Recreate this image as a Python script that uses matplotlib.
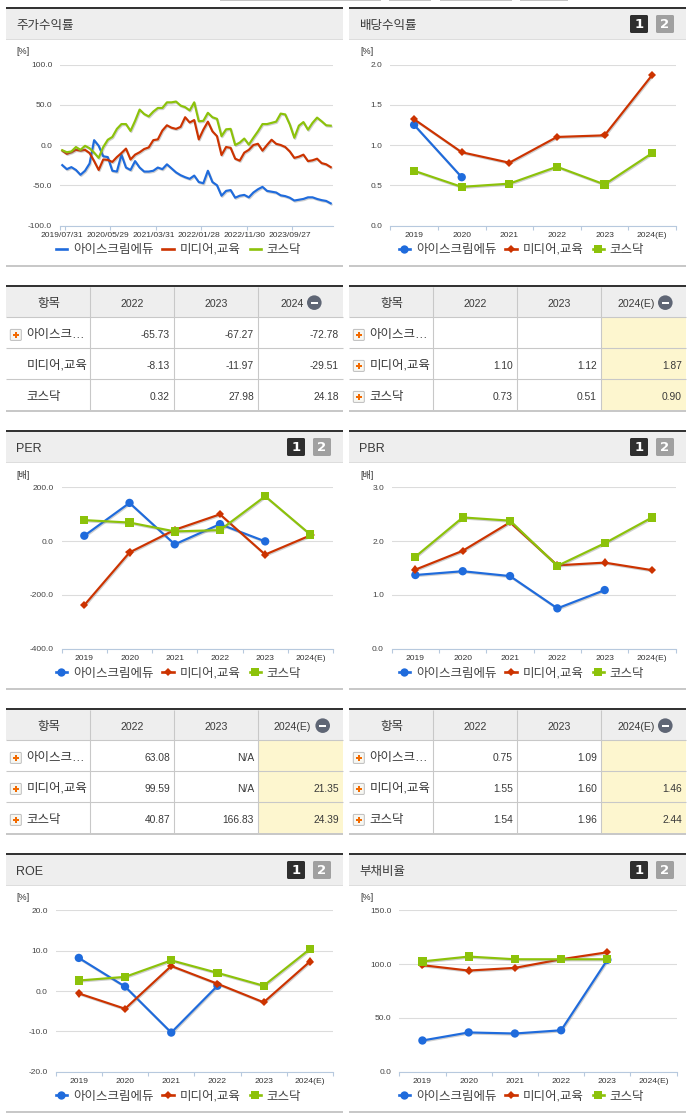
import numpy as np
import matplotlib
matplotlib.use('Agg')
import matplotlib.pyplot as plt
from matplotlib.patches import Rectangle, FancyBboxPatch, Circle
from matplotlib.lines import Line2D
import matplotlib.patheffects as pe

plt.rcParams['font.family'] = ['Liberation Sans', 'Noto Sans CJK KR', 'DejaVu Sans']

W, H = 691, 1115
nan = np.nan
SERIES = ['아이스크림에듀', '미디어,교육', '코스닥']
YEARS = ['2019', '2020', '2021', '2022', '2023', '2024(E)']
DATE_LABELS = ['2019/07/31', '2020/05/29', '2021/03/31', '2022/01/28', '2022/11/30', '2023/09/27']

ret_blue = [-25, -30, -27.5, -31, -37, -32, -23, 6, -1, -14, -15, -32, -33, -12, -28, -31, -20, -28, -33, -33,
            -32, -28, -30, -24, -29, -34, -37.5, -40, -42, -38, -46, -47.5, -32, -46, -50, -63, -57, -56, -65.5, -63,
            -62, -65, -59, -55, -52, -57, -58, -59, -62.5, -63.5, -65.5, -69, -68, -67, -65, -65, -67, -68.5, -69.5, -72.5]
ret_red = [-7, -11, -9, -6, -7, -6, -10, -20, -31, -18, -18.5, -21, -15, -10, -4.5, -18, -12, -9, -5, -3,
           6, 7, 18, 24.5, 21.5, 20, 22.5, 34.5, 28, 31, 7, 19, 29, 17, 11, -12.5, -2.5, -3.5, -17, -19.5,
           -9.5, -6, 0, 1.5, -7, 0, 6.5, 1.5, 0, -2.5, -8, -16, -14.5, -12, -20, -19, -17, -22.5, -24, -27.5]
ret_green = [-6.5, -9, -8, -2.5, -6, -1, -4, -9.5, -16, -2.5, 6.5, 10, 20, 26, 26, 17.5, 30, 44, 38.5, 35.5,
             41.5, 46, 46, 53, 53, 54, 49, 47, 43, 53, 29.5, 30, 40, 34.5, 32.5, 11, 19.5, 20, 0, 3,
             8, 0.5, 9, 17, 26, 26, 27.5, 29, 39, 38, 25.5, 9, 24, 28.5, 19, 27.5, 34, 29.5, 24.5, 24]

div_blue = [1.25, 0.60, nan, nan, nan, nan]
div_red = [1.32, 0.91, 0.78, 1.10, 1.12, 1.87]
div_green = [0.68, 0.48, 0.52, 0.73, 0.51, 0.90]
per_blue = [20, 142, -12, 63.08, -1, nan]
per_red = [-238, -42, 42, 99.59, -50, 21.35]
per_green = [78, 69, 36, 40.87, 166.83, 24.39]
pbr_blue = [1.37, 1.44, 1.35, 0.75, 1.09, nan]
pbr_red = [1.47, 1.82, 2.35, 1.55, 1.60, 1.46]
pbr_green = [1.71, 2.44, 2.38, 1.54, 1.96, 2.44]
roe_blue = [8.2, 1.1, -10.3, 1.3, nan, nan]
roe_red = [-0.6, -4.4, 6.2, 1.8, -2.8, 7.3]
roe_green = [2.6, 3.5, 7.6, 4.5, 1.3, 10.4]
debt_blue = [29, 36.5, 35.5, 38.5, 104, nan]
debt_red = [99, 94, 96.5, 104.5, 111, nan]
debt_green = [102.5, 107, 104.5, 104.5, 104.5, nan]

tbl_ret = [['-65.73', '-67.27', '-72.78'], ['-8.13', '-11.97', '-29.51'], ['0.32', '27.98', '24.18']]
tbl_div = [['', '', ''], ['1.10', '1.12', '1.87'], ['0.73', '0.51', '0.90']]
tbl_per = [['63.08', 'N/A', ''], ['99.59', 'N/A', '21.35'], ['40.87', '166.83', '24.39']]
tbl_pbr = [['0.75', '1.09', ''], ['1.55', '1.60', '1.46'], ['1.54', '1.96', '2.44']]
ROW_LABELS = ['아이스크…', '미디어,교육', '코스닥']

BLUE, RED, GREEN = '#1f6bdc', '#cc3300', '#8cc20a'
COLORS = [BLUE, RED, GREEN]
MARKERS = ['o', 'D', 's']
MSIZE = [6.0, 4.2, 5.9]
DARK, HDR, LINE, YEL, TXT = '#333333', '#eeeeee', '#c8c8c8', '#fdf6cf', '#3a3a3a'
GRID, AXC = '#dcdcdc', '#b7c9de'
PX = 0.72

fig = plt.figure(figsize=(W / 100, H / 100), dpi=100, facecolor='white')
bg = fig.add_axes([0, 0, 1, 1], zorder=0)
bg.set_xlim(0, W)
bg.set_ylim(H, 0)
bg.axis('off')


def rect(x0, y0, x1, y1, c, z=1):
    bg.add_patch(Rectangle((x0, y0), x1 - x0, y1 - y0, fc=c, ec='none', zorder=z))


def button(x, y, label, c):
    bg.add_patch(FancyBboxPatch((x + 1, y + 1), 16, 16, boxstyle='round,pad=1,rounding_size=1.5', fc=c, ec='none', zorder=3))
    bg.text(x + 9, y + 9.3, label, color='white', fontsize=9.5, fontweight='bold', ha='center', va='center', zorder=4,
            family='DejaVu Sans')


def header(x0, x1, y, title, buttons=True):
    rect(x0, y, x1, y + 2, DARK)
    rect(x0, y + 2, x1, y + 32, HDR)
    rect(x0, y + 32, x1, y + 33, '#dddddd')
    bg.text(x0 + 10.5, y + 18.6, title, fontsize=9, color=TXT, va='center', ha='left')
    if buttons:
        button(x1 - 56, y + 8, '1', '#2e2e2e')
        button(x1 - 30, y + 8, '2', '#a0a0a0')


def table(x0, x1, y, cols, values, heads, plus, yellow, circle_x, head_gap=10.5):
    ys = [y + 2, y + 32.3, y + 63.3, y + 94.3, y + 125.3]
    rect(x0, y, x1, y + 2, DARK)
    rect(x0, ys[0], x1, ys[1], HDR)
    if yellow:
        rect(cols[2], ys[1], x1, ys[4], YEL)
    for yy in ys[1:4]:
        bg.plot([x0, x1], [yy, yy], color=LINE, lw=PX * 1.1, zorder=2, solid_capstyle='butt')
    rect(x0, ys[4], x1, ys[4] + 1.7, LINE, 2)
    for c in cols:
        bg.plot([c, c], [ys[0], ys[4]], color=LINE, lw=PX * 1.1, zorder=2, solid_capstyle='butt')
    cy = (ys[0] + ys[1]) / 2 + 1.4
    ccy = (ys[0] + ys[1]) / 2 + 0.5
    bg.text((x0 + cols[0]) / 2 + 0.3, cy, '항목', fontsize=9, color=TXT, ha='center', va='center', zorder=3)
    bg.text(cols[0] + 42, cy, heads[0], fontsize=7.6, color=TXT, ha='center', va='center', zorder=3)
    bg.text(cols[1] + 42, cy, heads[1], fontsize=7.6, color=TXT, ha='center', va='center', zorder=3)
    bg.text(circle_x - head_gap, cy, heads[2], fontsize=7.6, color=TXT, ha='right', va='center', zorder=3)
    bg.add_patch(Circle((circle_x, ccy), 7.3, fc='#5f6675', ec='none', zorder=3))
    rect(circle_x - 3.5, ccy - 0.9, circle_x + 3.5, ccy + 0.9, 'white', 4)
    for i, lab in enumerate(ROW_LABELS):
        yc = (ys[i + 1] + ys[i + 2]) / 2 + 1.5
        tx = x0 + 20.5
        bg.text(tx, yc + 0.5, lab, fontsize=9, color=TXT, ha='left', va='center', zorder=3)
        if plus[i]:
            ic = yc + 0.6
            ix = x0 + 4.3
            bg.add_patch(FancyBboxPatch((ix + .5, ic - 5), 10, 10, boxstyle='round,pad=0.5,rounding_size=1', fc='#f7f7f2', ec='#bdbdbd', lw=0.7, zorder=3))
            rect(ix + 2.7, ic - 0.9, ix + 8.3, ic + 0.9, '#f26a00', 4)
            rect(ix + 4.6, ic - 2.8, ix + 6.4, ic + 2.8, '#f26a00', 4)
        for j, v in enumerate(values[i]):
            rx = cols[j + 1] - 4.3 if j < 2 else x1 - 4
            bg.text(rx, yc + 0.3, v, fontsize=7.4, color=TXT, ha='right', va='center', zorder=3)


def chart(box, ylim, yticks, unit, series, xlabels, label_pos, boundaries, leg_xy, markers=True, unit_y=None, unit_x=None):
    x0, ytop, x1, ybot = box
    ax = fig.add_axes([x0 / W, 1 - ybot / H, (x1 - x0) / W, (ybot - ytop) / H], zorder=2)
    ax.patch.set_alpha(0)
    n = len(series[0])
    ax.set_xlim(-0.5, n - 0.5)
    ax.set_ylim(*ylim)
    for s in ['top', 'left', 'right']:
        ax.spines[s].set_visible(False)
    ax.spines['bottom'].set_color(AXC)
    ax.spines['bottom'].set_linewidth(PX * 1.1)
    ax.set_axisbelow(True)
    ax.set_yticks(yticks)
    ax.set_yticklabels([f'{t:.1f}' for t in yticks])
    ax.tick_params(axis='y', length=0, pad=5.6, labelsize=6.0, labelcolor='#444444')
    ax.grid(axis='y', color=GRID, lw=PX * 1.1)
    ax.set_xticks(label_pos)
    ax.set_xticklabels(xlabels)
    ax.tick_params(axis='x', which='major', length=0, pad=4.4, labelsize=6.1, labelcolor='#333333')
    ax.set_xticks(boundaries, minor=True)
    ax.tick_params(axis='x', which='minor', length=3.2, width=PX * 1.1, color=AXC)
    xs = np.arange(n)
    shadow = [pe.SimpleLineShadow(offset=(0.6, -0.8), shadow_color='#777777', alpha=0.35), pe.Normal()]
    handles = []
    for k, (vals, c) in enumerate(zip(series, COLORS)):
        kw = dict(marker=MARKERS[k], ms=MSIZE[k], mec=c, mfc=c, mew=0) if markers else {}
        ax.plot(xs, vals, color=c, lw=1.55, solid_joinstyle='round', clip_on=False,
                path_effects=shadow, zorder=3 + k, label=SERIES[k], **kw)
        handles.append(Line2D([], [], color=c, lw=1.9, **kw))
    ax.legend(handles, SERIES, loc='center', bbox_to_anchor=((leg_xy[0] - x0) / (x1 - x0), (ybot - leg_xy[1]) / (ybot - ytop)),
              ncols=3, frameon=False, fontsize=9.0, handlelength=0.9, handletextpad=0.48, columnspacing=0.72,
              borderpad=0, labelcolor='#444444')
    bg.text(unit_x, unit_y, unit, fontsize=6.5, color='#333333', ha='left', va='center')
    return ax


LX0, LX1, RX0, RX1 = 6, 343, 349, 686
LCOLS = [90.3, 174.3, 258.3]
RCOLS = [433.3, 517.3, 601.3]
LEG_L, LEG_R = 178.5, 521.5

# fragments of the tabs cut by the top edge
for a, b in [(220, 381), (389, 431), (440, 512), (520, 568)]:
    rect(a, 0, b, 1, '#c4c4c4')

# row 1
header(LX0, LX1, 7, '주가수익률', buttons=False)
header(RX0, RX1, 7, '배당수익률')
rect(LX0, 265, LX1, 267, LINE)
rect(RX0, 265, RX1, 267, LINE)
b60 = [-0.5] + [i + 0.5 for i in range(0, 60, 10)]
chart((60, 64.5, 333, 225.5), (-100, 100), [-100, -50, 0, 50, 100], '[%]', [ret_blue, ret_red, ret_green],
      DATE_LABELS, list(range(0, 60, 10)), b60, (LEG_L, 250), markers=False, unit_y=52, unit_x=16.7)
cat_b = [i - 0.5 for i in range(7)]
cat_p = list(range(6))
chart((390.3, 64.5, 676, 225.5), (0, 2), [0, 0.5, 1, 1.5, 2], '[%]', [div_blue, div_red, div_green],
      YEARS, cat_p, cat_b, (LEG_R, 250), unit_y=52, unit_x=360)

# tables 1
table(LX0, LX1, 285, LCOLS, tbl_ret, ['2022', '2023', '2024'], [True, False, False], False, 314.3)
table(RX0, RX1, 285, RCOLS, tbl_div, ['2022', '2023', '2024(E)'], [True, True, True], True, 665.3)

# row 2
header(LX0, LX1, 430, 'PER')
header(RX0, RX1, 430, 'PBR')
rect(LX0, 688, LX1, 690, LINE)
rect(RX0, 688, RX1, 690, LINE)
chart((61.7, 487.3, 333, 648.7), (-400, 200), [-400, -200, 0, 200], '[배]', [per_blue, per_red, per_green],
      YEARS, cat_p, cat_b, (LEG_L, 673.7), unit_y=475, unit_x=16.7)
chart((391.7, 487.3, 675.7, 648.7), (0, 3), [0, 1, 2, 3], '[배]', [pbr_blue, pbr_red, pbr_green],
      YEARS, cat_p, cat_b, (LEG_R, 673.7), unit_y=475, unit_x=360)

# tables 2
table(LX0, LX1, 708, LCOLS, tbl_per, ['2022', '2023', '2024(E)'], [True, True, True], True, 322.7, head_gap=12)
table(RX0, RX1, 708, RCOLS, tbl_pbr, ['2022', '2023', '2024(E)'], [True, True, True], True, 665.3)

# row 3
header(LX0, LX1, 853, 'ROE')
header(RX0, RX1, 853, '부채비율')
rect(LX0, 1111, LX1, 1113, LINE)
rect(RX0, 1111, RX1, 1113, LINE)
chart((55.7, 910.3, 333, 1071.7), (-20, 20), [-20, -10, 0, 10, 20], '[%]', [roe_blue, roe_red, roe_green],
      YEARS, cat_p, cat_b, (LEG_L, 1096.7), unit_y=898, unit_x=16.7)
chart((399.3, 910.3, 676.7, 1071.7), (0, 150), [0, 50, 100, 150], '[%]', [debt_blue, debt_red, debt_green],
      YEARS, cat_p, cat_b, (LEG_R, 1096.7), unit_y=898, unit_x=360)

fig.savefig('out.png', dpi=100, facecolor='white')
